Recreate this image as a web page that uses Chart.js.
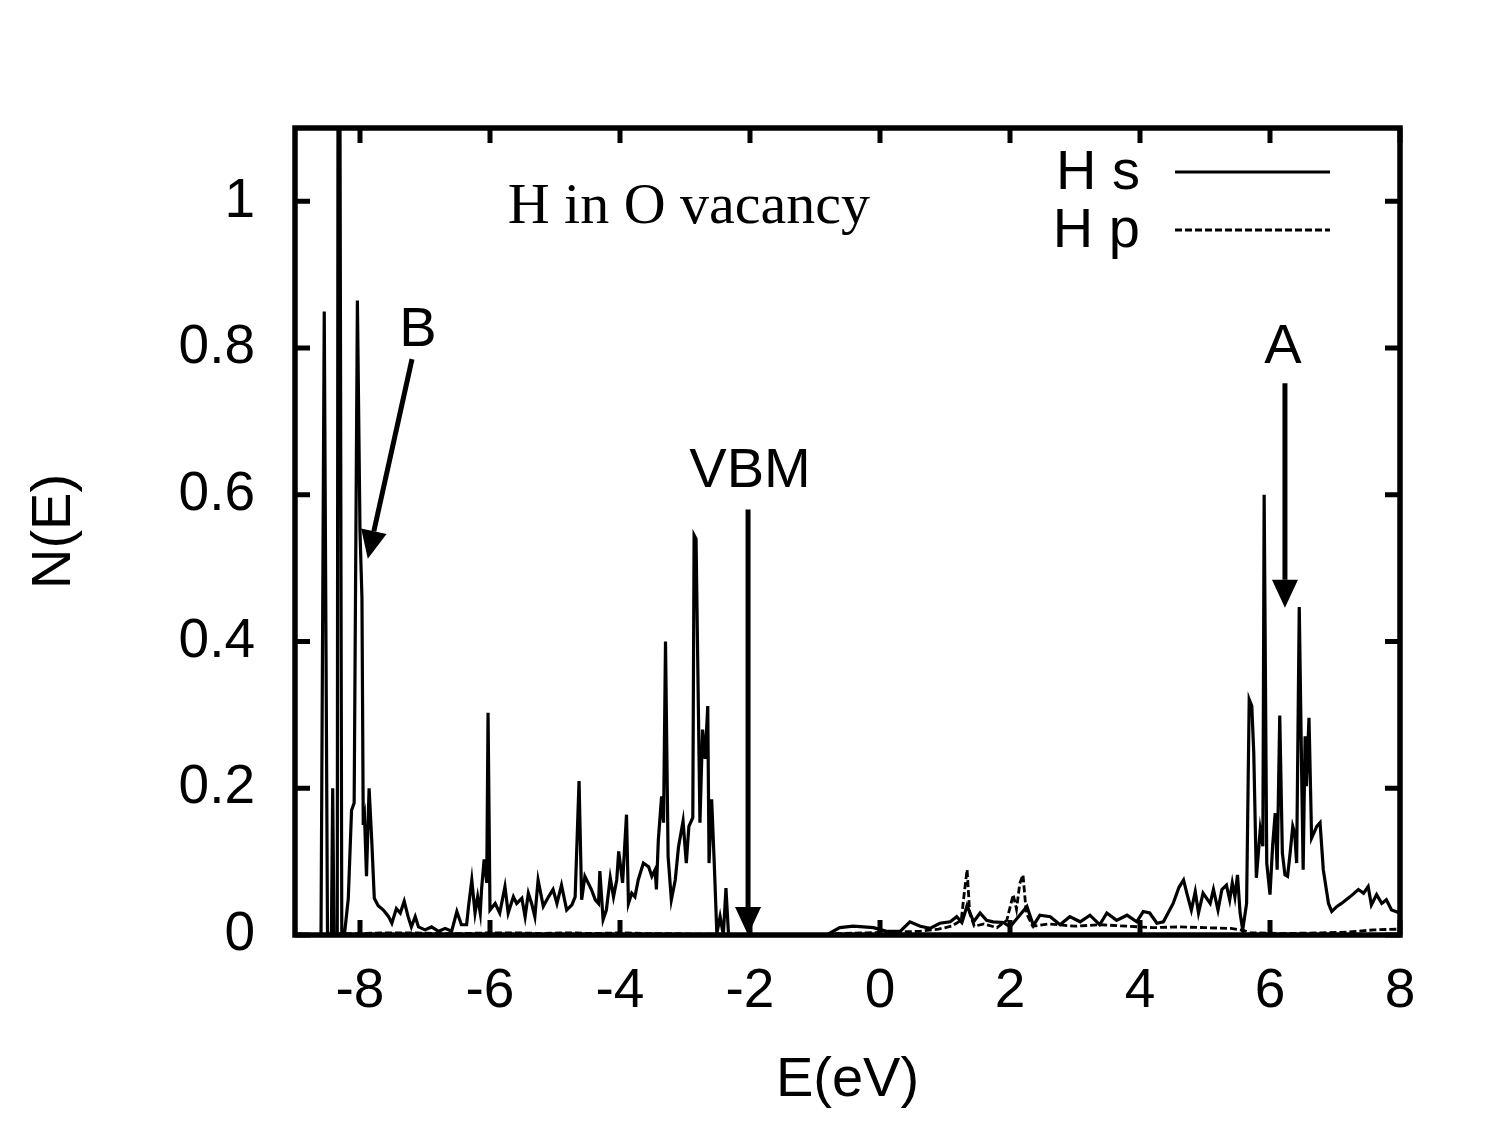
<!DOCTYPE html>
<html>
<head>
<meta charset="utf-8">
<script src="https://cdn.jsdelivr.net/npm/chart.js@4.4.1/dist/chart.umd.min.js"></script>
<style>
html,body{margin:0;padding:0;background:#fff;}
#wrap{width:1496px;height:1121px;position:relative;}
</style>
</head>
<body>
<div id="wrap"><canvas id="c"></canvas></div>
<script>
// ---------- data ----------
const xTickValues = [-8, -6, -4, -2, 0, 2, 4, 6, 8];
const yTickValues = [0, 0.2, 0.4, 0.6, 0.8, 1];
const seriesLabels = ['H s', 'H p'];

const hsEnergy = [
  -9, -8.60, -8.55, -8.50, -8.44, -8.42, -8.40, -8.35, -8.33, -8.28, -8.24, -8.18, -8.13, -8.09, -8.04,
  -8.00, -7.97, -7.95, -7.93, -7.90, -7.86, -7.82, -7.78, -7.72, -7.64, -7.56, -7.51, -7.44, -7.38, -7.32,
  -7.26, -7.21, -7.15, -7.10, -7.00, -6.90, -6.79, -6.69, -6.59, -6.51, -6.44, -6.36, -6.33, -6.28, -6.23,
  -6.19, -6.15, -6.13, -6.09, -6.05, -6.03, -6.00, -5.92, -5.85, -5.77, -5.72, -5.64, -5.59, -5.51, -5.46,
  -5.41, -5.36, -5.31, -5.26, -5.18, -5.10, -5.03, -4.97, -4.90, -4.82, -4.74, -4.69, -4.63, -4.59, -4.54,
  -4.49, -4.44, -4.38, -4.33, -4.31, -4.26, -4.21, -4.15, -4.10, -4.05, -4.02, -3.96, -3.90, -3.87, -3.82,
  -3.77, -3.72, -3.64, -3.56, -3.51, -3.46, -3.44, -3.41, -3.36, -3.33, -3.30, -3.26, -3.21, -3.15, -3.10,
  -3.03, -2.98, -2.94, -2.88, -2.86, -2.83, -2.77, -2.73, -2.69, -2.65, -2.63, -2.59, -2.55, -2.51, -2.46,
  -2.41, -2.37, -2.33, -2.00, -0.82, -0.62, -0.41, -0.10, 0.10, 0.31, 0.46, 0.62, 0.77, 0.92, 1.08,
  1.18, 1.26, 1.34, 1.44, 1.54, 1.64, 1.74, 1.90, 2.00, 2.26, 2.36, 2.46, 2.62, 2.77, 2.92,
  3.08, 3.23, 3.38, 3.49, 3.64, 3.80, 3.95, 4.05, 4.15, 4.26, 4.36, 4.51, 4.60, 4.67, 4.72,
  4.79, 4.85, 4.90, 4.97, 5.08, 5.13, 5.20, 5.26, 5.33, 5.38, 5.42, 5.46, 5.50, 5.54, 5.58,
  5.64, 5.68, 5.72, 5.75, 5.79, 5.85, 5.89, 5.91, 5.95, 6.00, 6.04, 6.08, 6.11, 6.15, 6.19,
  6.23, 6.27, 6.31, 6.35, 6.38, 6.41, 6.45, 6.49, 6.51, 6.54, 6.56, 6.60, 6.64, 6.72, 6.77,
  6.82, 6.90, 6.95, 7.03, 7.10, 7.23, 7.36, 7.44, 7.51, 7.56, 7.64, 7.72, 7.79, 7.87, 8.00
];
const hsDos = [
  0, 0, 0.85, 0, 0, 0.20, 0, 0, 2.0, 0, 0, 0.05, 0.17, 0.18, 0.865,
  0.55, 0.46, 0.15, 0.16, 0.08, 0.20, 0.13, 0.05, 0.04, 0.034, 0.025, 0.016, 0.036, 0.030, 0.046,
  0.025, 0.011, 0.025, 0.011, 0.007, 0.011, 0.005, 0.009, 0.005, 0.032, 0.014, 0.014, 0.039, 0.075, 0.030,
  0.052, 0.030, 0.062, 0.103, 0.071, 0.303, 0.034, 0.043, 0.030, 0.066, 0.030, 0.052, 0.043, 0.050, 0.025,
  0.057, 0.043, 0.025, 0.075, 0.039, 0.052, 0.062, 0.043, 0.068, 0.034, 0.041, 0.052, 0.210, 0.048, 0.080,
  0.071, 0.062, 0.048, 0.043, 0.087, 0.021, 0.034, 0.078, 0.052, 0.075, 0.114, 0.071, 0.164, 0.043, 0.057,
  0.052, 0.075, 0.098, 0.093, 0.080, 0.089, 0.062, 0.130, 0.189, 0.153, 0.400, 0.107, 0.048, 0.075, 0.120,
  0.155, 0.098, 0.148, 0.160, 0.545, 0.540, 0.153, 0.280, 0.240, 0.312, 0.098, 0.185, 0.098, 0.002, 0.025,
  0, 0.064, 0, 0, 0, 0.010, 0.012, 0.010, 0.005, 0.005, 0.018, 0.012, 0.009, 0.016, 0.018,
  0.025, 0.017, 0.040, 0.018, 0.030, 0.020, 0.018, 0.017, 0.011, 0.039, 0.013, 0.027, 0.025, 0.014, 0.025,
  0.018, 0.027, 0.014, 0.030, 0.020, 0.027, 0.018, 0.032, 0.030, 0.016, 0.018, 0.043, 0.065, 0.075, 0.057,
  0.034, 0.059, 0.030, 0.057, 0.043, 0.062, 0.034, 0.062, 0.068, 0.048, 0.071, 0.052, 0.082, 0.030, 0.007,
  0.043, 0.321, 0.312, 0.249, 0.078, 0.144, 0.121, 0.600, 0.098, 0.055, 0.121, 0.166, 0.089, 0.299, 0.112,
  0.082, 0.080, 0.112, 0.148, 0.139, 0.098, 0.447, 0.203, 0.089, 0.271, 0.203, 0.296, 0.132, 0.148, 0.153,
  0.089, 0.043, 0.032, 0.039, 0.043, 0.052, 0.062, 0.057, 0.066, 0.041, 0.055, 0.043, 0.048, 0.034, 0.030
];

const hpEnergy = [
  -9, -8.0, -7.6, -7.2, -6.8, -6.4, -6.0, -5.6, -5.2, -4.8, -4.4, -4.0, -3.6, -3.2, -2.8,
  -2.5, -2.4, -1.0, -0.6, -0.2, 0.2, 0.6, 0.9, 1.1, 1.25, 1.30, 1.34, 1.38, 1.45, 1.6,
  1.8, 1.95, 2.05, 2.10, 2.15, 2.20, 2.25, 2.35, 2.6, 3.0, 3.4, 3.8, 4.2, 4.6, 5.0,
  5.4, 5.6, 5.7, 6.2, 6.8, 7.2, 7.6, 8.0
];
const hpDos = [
  0, 0.002, 0.003, 0.003, 0.002, 0.002, 0.003, 0.003, 0.002, 0.003, 0.002, 0.003, 0.002, 0.002, 0.001,
  0.001, 0, 0, 0.002, 0.003, 0.004, 0.005, 0.008, 0.012, 0.020, 0.060, 0.089, 0.030, 0.012, 0.015,
  0.010, 0.020, 0.055, 0.035, 0.070, 0.082, 0.030, 0.012, 0.015, 0.012, 0.014, 0.012, 0.010, 0.011, 0.010,
  0.009, 0.006, 0.003, 0.002, 0.003, 0.004, 0.007, 0.008
];

// ---------- annotations (data coordinates) ----------
const textNotes = [
  { text: 'H in O vacancy', x: -2.94, y: 0.971, serif: true },
  { text: 'B', x: -7.11, y: 0.803 },
  { text: 'A', x: 6.20, y: 0.780 },
  { text: 'VBM', x: -2.00, y: 0.611 }
];
const arrowNotes = [
  { x0: -7.20, y0: 0.785, x1: -7.88, y1: 0.513 },
  { x0: -2.03, y0: 0.580, x1: -2.03, y1: 0.0 },
  { x0: 6.23, y0: 0.752, x1: 6.23, y1: 0.446 }
];

// ---------- chart ----------
const SANS = "'Liberation Sans', Arial, Helvetica, sans-serif";
const SERIF = "'Liberation Serif', 'Times New Roman', serif";
Chart.defaults.font.family = SANS;
Chart.defaults.color = '#000';

const toPoints = (xs, ys) => xs.map((v, i) => ({ x: v, y: ys[i] }));

function drawArrow(ctx, x0, y0, x1, y1) {
  const ang = Math.atan2(y1 - y0, x1 - x0);
  const hl = 28, hw = 13;
  const bx = x1 - hl * Math.cos(ang), by = y1 - hl * Math.sin(ang);
  ctx.beginPath();
  ctx.moveTo(x0, y0);
  ctx.lineTo(bx, by);
  ctx.stroke();
  ctx.beginPath();
  ctx.moveTo(x1, y1);
  ctx.lineTo(bx + hw * Math.sin(ang), by - hw * Math.cos(ang));
  ctx.lineTo(bx - hw * Math.sin(ang), by + hw * Math.cos(ang));
  ctx.closePath();
  ctx.fill();
}

const decor = {
  id: 'decor',
  afterDatasetsDraw(chart) {
    const { ctx, chartArea: a, scales: { x, y } } = chart;
    ctx.save();
    ctx.strokeStyle = '#000';
    ctx.fillStyle = '#000';
    ctx.setLineDash([]);
    // inward tick marks on all four sides
    ctx.lineWidth = 5;
    ctx.beginPath();
    xTickValues.forEach(v => {
      const px = x.getPixelForValue(v);
      ctx.moveTo(px, a.bottom); ctx.lineTo(px, a.bottom - 15);
      ctx.moveTo(px, a.top); ctx.lineTo(px, a.top + 15);
    });
    yTickValues.forEach(v => {
      const py = y.getPixelForValue(v);
      ctx.moveTo(a.left, py); ctx.lineTo(a.left + 15, py);
      ctx.moveTo(a.right, py); ctx.lineTo(a.right - 15, py);
    });
    ctx.stroke();
    // frame
    ctx.lineWidth = 5.5;
    ctx.strokeRect(a.left, a.top, a.right - a.left, a.bottom - a.top);

    // arrows
    ctx.lineWidth = 5;
    arrowNotes.forEach(n => {
      drawArrow(ctx, x.getPixelForValue(n.x0), y.getPixelForValue(n.y0),
                x.getPixelForValue(n.x1), y.getPixelForValue(n.y1));
    });

    // text notes
    ctx.textAlign = 'center';
    ctx.textBaseline = 'alphabetic';
    textNotes.forEach(n => {
      ctx.font = n.serif ? `58px ${SERIF}` : `56px ${SANS}`;
      ctx.fillText(n.text, x.getPixelForValue(n.x), y.getPixelForValue(n.y));
    });

    // legend (text then line sample)
    const ds = chart.data.datasets;
    ctx.font = `56px ${SANS}`;
    ctx.textAlign = 'right';
    ctx.textBaseline = 'middle';
    ds.forEach((d, i) => {
      const ly = a.top + 44 + i * 58;
      ctx.fillText(d.label, a.right - 260, ly + 2);
      ctx.lineWidth = 3;
      ctx.setLineDash(d.borderDash || []);
      ctx.beginPath();
      ctx.moveTo(a.right - 225, ly);
      ctx.lineTo(a.right - 70, ly);
      ctx.stroke();
      ctx.setLineDash([]);
    });
    ctx.restore();
  }
};

new Chart(document.getElementById('c'), {
  type: 'scatter',
  data: {
    datasets: [
      {
        label: seriesLabels[0],
        data: toPoints(hsEnergy, hsDos),
        showLine: true,
        borderColor: '#000',
        borderWidth: 3.2,
        pointRadius: 0,
        tension: 0
      },
      {
        label: seriesLabels[1],
        data: toPoints(hpEnergy, hpDos),
        showLine: true,
        borderColor: '#000',
        borderWidth: 2.8,
        borderDash: [7, 3],
        pointRadius: 0,
        tension: 0
      }
    ]
  },
  options: {
    responsive: true,
    maintainAspectRatio: false,
    animation: false,
    layout: { padding: { top: 128, right: 96, left: 0, bottom: 0 } },
    plugins: { legend: { display: false }, tooltip: { enabled: false } },
    scales: {
      x: {
        type: 'linear',
        min: -9,
        max: 8,
        afterFit(s) { s.height = 186; },
        afterBuildTicks(s) { s.ticks = xTickValues.map(v => ({ value: v })); },
        grid: { display: false, drawTicks: false },
        border: { display: false },
        ticks: {
          padding: 24,
          maxRotation: 0,
          autoSkip: false,
          font: { size: 55 },
          color: '#000',
          callback: v => String(v)
        },
        title: {
          display: true,
          text: 'E(eV)',
          font: { size: 56 },
          color: '#000',
          padding: { top: 0, bottom: 7 }
        }
      },
      y: {
        type: 'linear',
        min: 0,
        max: 1.1,
        afterFit(s) { s.width = 295; },
        afterBuildTicks(s) { s.ticks = yTickValues.map(v => ({ value: v })); },
        grid: { display: false, drawTicks: false },
        border: { display: false },
        ticks: {
          padding: 40,
          autoSkip: false,
          font: { size: 55 },
          color: '#000',
          callback: v => String(+Number(v).toFixed(1))
        },
        title: {
          display: true,
          text: 'N(E)',
          font: { size: 56 },
          color: '#000',
          padding: { top: 21, bottom: 0 }
        }
      }
    }
  },
  plugins: [decor]
});
</script>
</body>
</html>
